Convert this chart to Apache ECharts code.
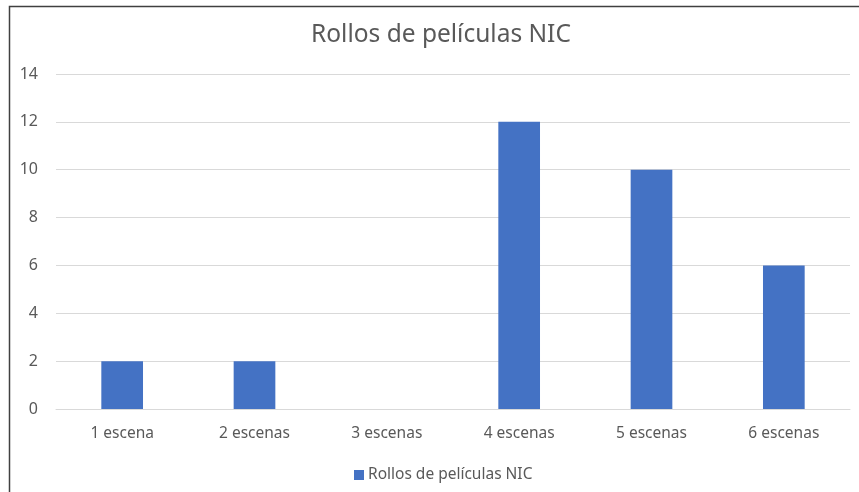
<!DOCTYPE html>
<html><head><meta charset="utf-8">
<script src="https://cdn.jsdelivr.net/npm/echarts@6/dist/echarts.min.js"></script>
<style>html,body{margin:0;padding:0;background:#fff}#c{width:859px;height:492px}</style>
</head><body><div id="c"></div>
<script>
const categories = ['1 escena','2 escenas','3 escenas','4 escenas','5 escenas','6 escenas'];
const values = [2, 2, 0, 12, 10, 6];
const seriesName = 'Rollos de películas NIC';
const titleText = 'Rollos de películas NIC';

const chart = echarts.init(document.getElementById('c'));
const font = 'Noto Sans';
chart.setOption({
  animation: false,
  textStyle: {fontFamily: font},
  title: {text: titleText, left: 306, top: 18,
    textStyle: {fontFamily: font, fontSize: 24.5, fontWeight: 'normal', color: '#595959'}},
  graphic: [{type: 'rect', shape: {x: 9.5, y: 6.5, width: 1000, height: 1000},
    style: {fill: null, stroke: '#404040', lineWidth: 1.5}, silent: true}],
  legend: {top: 462, left: 349, itemWidth: 10, itemHeight: 10, itemGap: 5,
    icon: 'rect', textStyle: {fontFamily: font, fontSize: 15.5, color: '#595959', padding: [0,0,0,-1]},
    data: [seriesName]},
  grid: {left: 56, right: 9, top: 74, bottom: 83, containLabel: false},
  xAxis: {type: 'category', data: categories,
    axisLine: {lineStyle: {color: '#d9d9d9', width: 1}}, axisTick: {show: false},
    axisLabel: {fontFamily: font, fontSize: 15.5, color: '#595959', margin: 17}},
  yAxis: {type: 'value', min: 0, max: 14, interval: 2,
    axisLine: {show: false}, axisTick: {show: false},
    splitLine: {lineStyle: {color: '#d9d9d9', width: 1}},
    axisLabel: {fontFamily: font, fontSize: 16, color: '#595959', margin: 18}},
  series: [{name: seriesName, type: 'bar', data: values, barWidth: '31.5%',
    itemStyle: {color: '#4472c4'}}]
});
</script></body></html>
